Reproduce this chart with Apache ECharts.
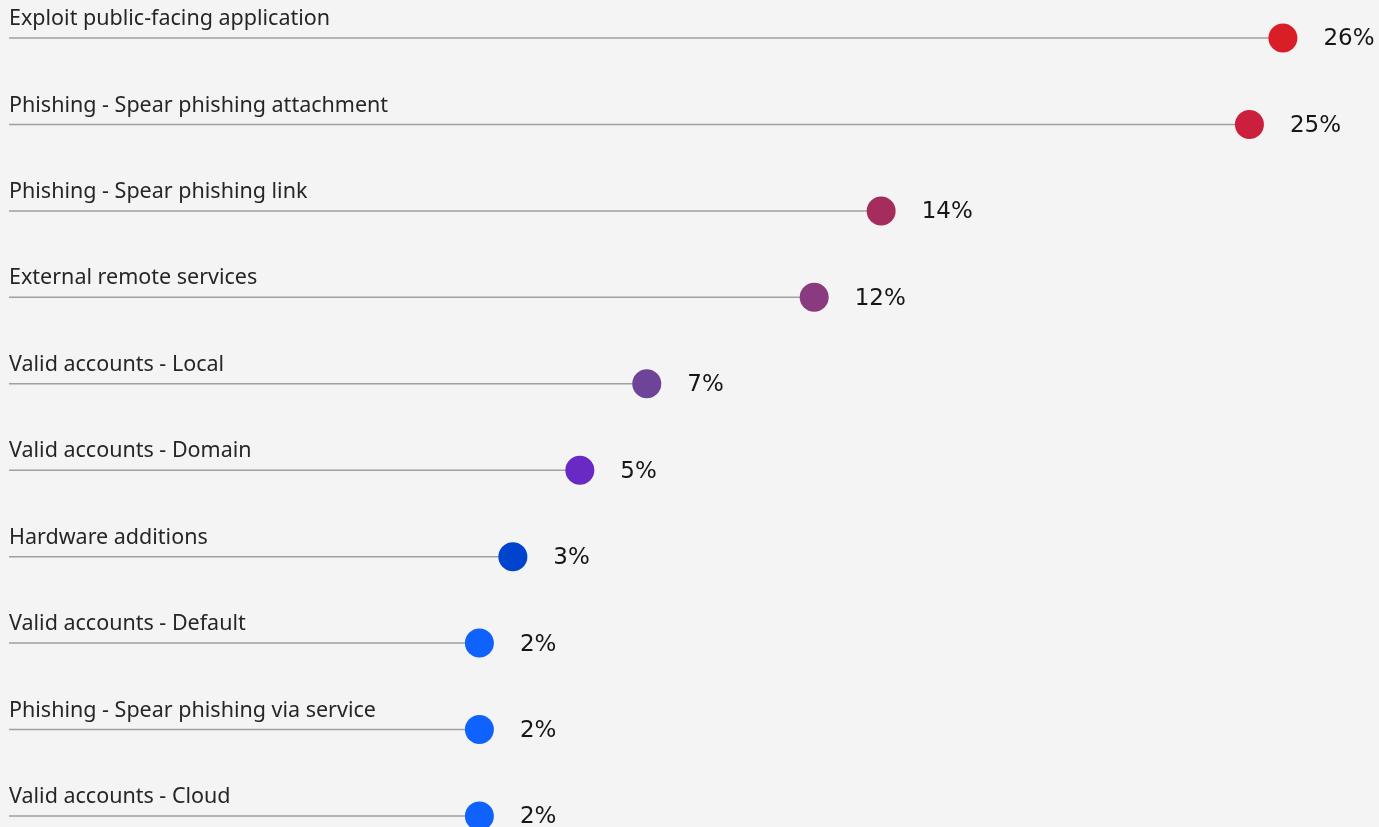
<!DOCTYPE html>
<html>
<head>
<meta charset="utf-8">
<style>
html,body{margin:0;padding:0;background:#f4f4f4;}
#chart{width:1379px;height:827px;}
</style>
<script src="https://cdn.jsdelivr.net/npm/echarts@6/dist/echarts.min.js"></script>
</head>
<body>
<div id="chart"></div>
<script>
const categories = [
  "Exploit public-facing application",
  "Phishing - Spear phishing attachment",
  "Phishing - Spear phishing link",
  "External remote services",
  "Valid accounts - Local",
  "Valid accounts - Domain",
  "Hardware additions",
  "Valid accounts - Default",
  "Phishing - Spear phishing via service",
  "Valid accounts - Cloud"
];
const values = [26, 25, 14, 12, 7, 5, 3, 2, 2, 2];

const dotColors = ["#da1e28", "#cc1f3d", "#a52d5d", "#8a3a7e", "#6e4498", "#6929c4", "#0043ce", "#0f62fe", "#0f62fe", "#0f62fe"];

const chart = echarts.init(document.getElementById('chart'));
const FONT = '"Noto Sans", "Open Sans", sans-serif';
chart.setOption({
  backgroundColor: '#f4f4f4',
  animation: false,
  grid: { left: 9, right: 0, top: 38, bottom: 11 },
  xAxis: {
    type: 'value', min: -12.05, max: 28.87,
    show: false
  },
  yAxis: {
    type: 'category',
    data: categories,
    inverse: true,
    boundaryGap: false,
    axisLine: { show: false },
    axisTick: { show: false },
    splitLine: { show: false },
    axisLabel: {
      inside: true,
      margin: 0,
      align: 'left',
      verticalAlign: 'bottom',
      padding: [0, 0, 8, 0],
      color: '#262626',
      fontFamily: FONT,
      fontSize: 21.5
    }
  },
  series: [
    {
      type: 'custom',
      data: values.map((v, i) => [v, i]),
      renderItem: function (params, api) {
        const end = api.coord([api.value(0), api.value(1)]);
        const x0 = params.coordSys.x;
        return {
          type: 'line',
          shape: { x1: x0, y1: end[1], x2: end[0], y2: end[1] },
          style: { stroke: '#a0a0a0', lineWidth: 1.5 }
        };
      },
      z: 1
    },
    {
      type: 'scatter',
      symbol: 'circle',
      symbolSize: 29,
      itemStyle: { opacity: 1 },
      data: values.map((v, i) => ({ value: [v, i], itemStyle: { color: dotColors[i], opacity: 1 } })),
      label: {
        show: true,
        position: 'right',
        distance: 26,
        offset: [0, 1.5],
        formatter: p => p.value[0] + '%',
        color: '#161616',
        fontFamily: '"DejaVu Sans", sans-serif',
        fontSize: 23
      },
      z: 3
    }
  ]
});
</script>
</body>
</html>
